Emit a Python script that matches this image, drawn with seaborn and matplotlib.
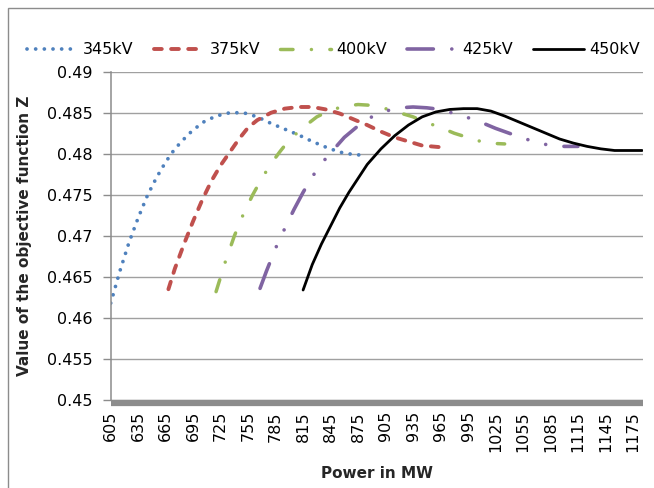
import matplotlib
matplotlib.use("Agg")
import matplotlib.pyplot as plt
import seaborn as sns
import pandas as pd
from matplotlib.patches import Rectangle

# ---------------- data ----------------
series_labels = ["345kV", "375kV", "400kV", "425kV", "450kV"]

mw_345 = [605, 615, 625, 635, 645, 655, 665, 675, 690, 705, 720, 735, 750,
          765, 780, 795, 810, 825, 840, 855, 870, 885]
z_345 = [0.4618, 0.4657, 0.4692, 0.4722, 0.4749, 0.4771, 0.4790, 0.4806,
         0.4824, 0.4838, 0.4846, 0.4850, 0.4850, 0.4845, 0.4837, 0.4830,
         0.4823, 0.4815, 0.4808, 0.4802, 0.4799, 0.4798]

mw_375 = [668, 675, 685, 695, 705, 715, 725, 735, 745, 755, 765, 780, 795,
          810, 825, 840, 855, 870, 885, 900, 915, 930, 945, 965]
z_375 = [0.4635, 0.4660, 0.4690, 0.4718, 0.4744, 0.4767, 0.4786, 0.4802,
         0.4818, 0.4832, 0.4841, 0.4850, 0.4855, 0.4857, 0.4857, 0.4854,
         0.4849, 0.4842, 0.4835, 0.4827, 0.4820, 0.4815, 0.4810, 0.4808]

mw_400 = [720, 730, 740, 750, 760, 770, 780, 790, 800, 815, 830, 845, 860,
          875, 890, 905, 920, 935, 950, 965, 980, 1000, 1015, 1035]
z_400 = [0.4632, 0.4668, 0.4700, 0.4727, 0.4750, 0.4770, 0.4788, 0.4803,
         0.4817, 0.4832, 0.4845, 0.4853, 0.4858, 0.4860, 0.4859, 0.4855,
         0.4850, 0.4845, 0.4838, 0.4832, 0.4825, 0.4818, 0.4813, 0.4812]

mw_425 = [768, 775, 785, 795, 805, 815, 825, 835, 845, 860, 875, 890, 905,
          920, 935, 950, 965, 980, 995, 1010, 1025, 1040, 1055, 1070, 1085,
          1100, 1115]
z_425 = [0.4636, 0.4657, 0.4685, 0.4709, 0.4732, 0.4753, 0.4772, 0.4788,
         0.4801, 0.4820, 0.4834, 0.4845, 0.4852, 0.4856, 0.4857, 0.4856,
         0.4854, 0.4849, 0.4844, 0.4838, 0.4831, 0.4825, 0.4819, 0.4814,
         0.4810, 0.4809, 0.4809]

mw_450 = [815, 825, 835, 845, 855, 865, 875, 885, 900, 915, 930, 945, 960,
          975, 990, 1005, 1020, 1035, 1050, 1065, 1080, 1095, 1110, 1125,
          1140, 1155, 1170, 1185]
z_450 = [0.4634, 0.4665, 0.4690, 0.4712, 0.4734, 0.4753, 0.4770, 0.4787,
         0.4806, 0.4822, 0.4835, 0.4845, 0.4851, 0.4854, 0.4855, 0.4855,
         0.4852, 0.4846, 0.4839, 0.4832, 0.4825, 0.4818, 0.4813, 0.4809,
         0.4806, 0.4804, 0.4804, 0.4804]

x_tick_values = [605, 635, 665, 695, 725, 755, 785, 815, 845, 875, 905, 935,
                 965, 995, 1025, 1055, 1085, 1115, 1145, 1175]
y_tick_values = [0.45, 0.455, 0.46, 0.465, 0.47, 0.475, 0.48, 0.485, 0.49]
y_tick_labels = ["0.45", "0.455", "0.46", "0.465", "0.47", "0.475", "0.48",
                 "0.485", "0.49"]

x_values = [mw_345, mw_375, mw_400, mw_425, mw_450]
z_values = [z_345, z_375, z_400, z_425, z_450]

# ---------------- styling ----------------
colors = ["#4F81BD", "#C0504D", "#9BBB59", "#8064A2", "#000000"]
widths = [2.7, 2.8, 2.5, 2.6, 2.0]
styles = [(0, (0.01, 2.3)),
          (0, (2.0, 2.4)),
          (0, (3.6, 5.3, 0.01, 5.3)),
          (0, (7.3, 5.1, 0.01, 5.1, 0.01, 5.1)),
          "-"]

sns.set_theme(style="white")
plt.rcParams["font.family"] = ["DejaVu Sans"]
plt.rcParams["text.color"] = "#000000"
plt.rcParams["ytick.left"] = True
plt.rcParams["ytick.major.size"] = 6
plt.rcParams["ytick.major.width"] = 1.0
plt.rcParams["ytick.color"] = "#8c8c8c"
plt.rcParams["ytick.labelcolor"] = "#000000"
FS = 11.5

W, H = 654, 488
fig = plt.figure(figsize=(W / 100, H / 100), dpi=100)
left_px, right_px, top_px, bot_px = 110.7, 643.0, 71.7, 400.0
ax = fig.add_axes([left_px / W, 1 - bot_px / H,
                   (right_px - left_px) / W, (bot_px - top_px) / H])

for xs, zs, lab, c, lw, ls in zip(x_values, z_values, series_labels,
                                  colors, widths, styles):
    df = pd.DataFrame({"MW": xs, "Z": zs})
    sns.lineplot(data=df, x="MW", y="Z", ax=ax, color=c, lw=lw,
                 linestyle=ls, dash_capstyle="round",
                 solid_capstyle="round", label=lab, sort=False)

handles, labels = ax.get_legend_handles_labels()
if ax.get_legend() is not None:
    ax.get_legend().remove()

ax.set_xlim(605, 1186)
ax.set_ylim(0.45, 0.49)
ax.set_yticks(y_tick_values)
ax.set_yticklabels(y_tick_labels)
ax.set_xticks(x_tick_values)
ax.set_xticklabels([str(v) for v in x_tick_values])

ax.yaxis.grid(True, color="#a0a0a0", lw=1.0)
ax.xaxis.grid(False)
ax.set_axisbelow(True)

for s in ["top", "right"]:
    ax.spines[s].set_visible(False)
ax.spines["left"].set_color("#8c8c8c")
ax.spines["left"].set_linewidth(1.1)
ax.spines["bottom"].set_color("#8c8c8c")
ax.spines["bottom"].set_linewidth(4.5)
ax.spines["bottom"].set_position(("outward", 2))
ax.spines["bottom"].set_capstyle("butt")

ax.tick_params(axis="y", which="major", length=6, width=1, color="#8c8c8c",
               labelcolor="#000000", pad=7, labelsize=FS, left=True)
ax.tick_params(axis="x", length=0, pad=6, labelsize=FS, bottom=False,
               labelrotation=90, labelcolor="#000000")

ax.set_ylabel("Value of the objective function Z", fontsize=FS - 0.5,
              fontweight="bold")
ax.yaxis.set_label_coords(-0.148, 0.5)
ax.set_xlabel("Power in MW", fontsize=FS - 0.5, fontweight="bold")
ax.xaxis.set_label_coords(0.5, -0.2)

fig.legend(handles, labels, loc="center", bbox_to_anchor=(0.51, 1 - 50 / H),
           ncol=5, frameon=False, fontsize=FS, handlelength=3.2,
           columnspacing=1.25, handletextpad=0.3)

fig.patches.append(Rectangle((8 / W, -0.1), 1.2, (1 - 8 / H) + 0.1,
                             transform=fig.transFigure, fill=False,
                             edgecolor="#8c8c8c", lw=1.0))

fig.savefig("out.png", dpi=100)
